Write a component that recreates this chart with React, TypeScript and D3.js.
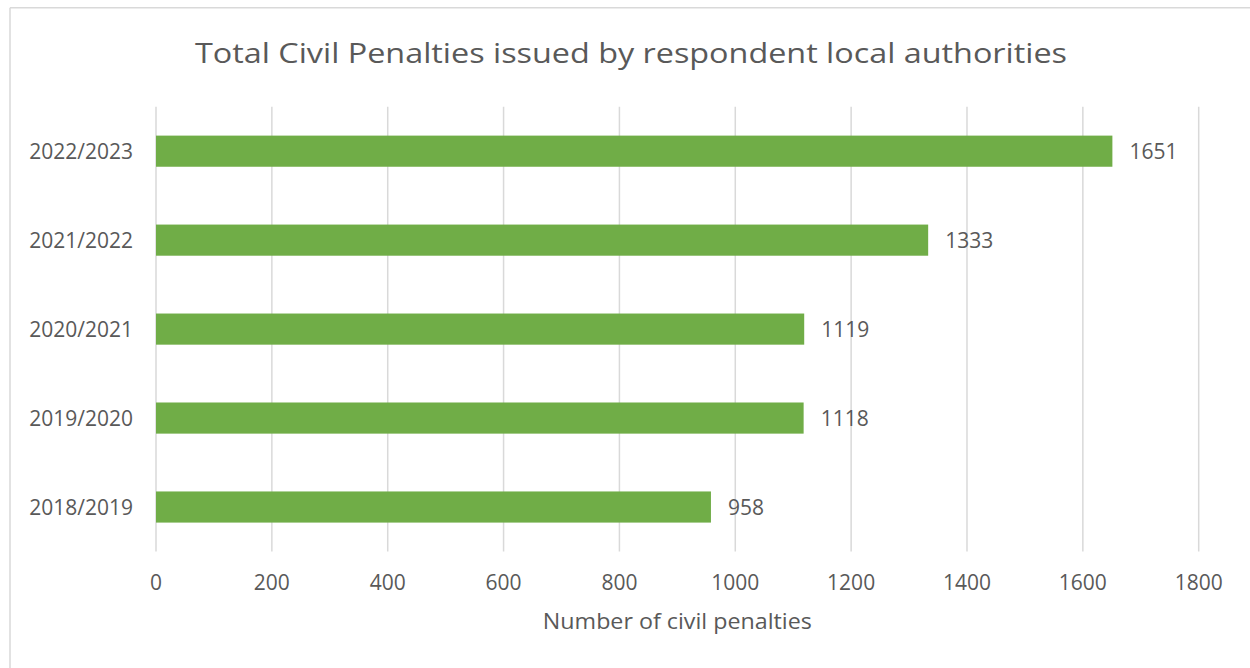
import React, { useEffect, useRef } from "react";
import * as d3 from "d3";

const categories = ["2022/2023", "2021/2022", "2020/2021", "2019/2020", "2018/2019"];
const values = [1651, 1333, 1119, 1118, 958];
const xTicks = [0, 200, 400, 600, 800, 1000, 1200, 1400, 1600, 1800];
const chartTitle = "Total Civil Penalties issued by respondent local authorities";
const xAxisTitle = "Number of civil penalties";

const W = 1250;
const H = 668;
const FONT = "'Open Sans', 'Noto Sans', sans-serif";
const TEXT = "#595959";
const GRID = "#D9D9D9";
const BAR = "#70AD47";

export default function App() {
  const ref = useRef<SVGSVGElement>(null);

  useEffect(() => {
    const svg = d3.select(ref.current);
    svg.selectAll("*").remove();

    const x = d3.scaleLinear().domain([0, 1800]).range([156, 1198.7]);
    const y = d3
      .scaleBand<string>()
      .domain(categories)
      .range([106.7, 551.5])
      .paddingInner(0.65)
      .paddingOuter(0.325);

    // border
    svg.append("line").attr("x1", 10).attr("x2", W).attr("y1", 7.8).attr("y2", 7.8)
      .attr("stroke", GRID).attr("stroke-width", 1.5);
    svg.append("line").attr("x1", 10).attr("x2", 10).attr("y1", 7.8).attr("y2", H)
      .attr("stroke", GRID).attr("stroke-width", 1.5);

    // title
    svg.append("text")
      .attr("x", 631).attr("y", 63)
      .attr("text-anchor", "middle")
      .attr("font-family", FONT).attr("font-size", 28)
      .attr("fill", TEXT)
      .attr("textLength", 872).attr("lengthAdjust", "spacingAndGlyphs")
      .text(chartTitle);

    // gridlines
    svg.append("g").selectAll("line").data(xTicks).join("line")
      .attr("x1", (d) => x(d)).attr("x2", (d) => x(d))
      .attr("y1", 106.7).attr("y2", 551.5)
      .attr("stroke", GRID).attr("stroke-width", 1.5);

    // tick labels
    svg.append("g").selectAll("text").data(xTicks).join("text")
      .attr("x", (d) => x(d)).attr("y", 590)
      .attr("text-anchor", "middle")
      .attr("font-family", FONT).attr("font-size", 21)
      .attr("fill", TEXT)
      .text((d) => String(d));

    // bars
    svg.append("g").selectAll("rect").data(values).join("rect")
      .attr("x", x(0))
      .attr("y", (_, i) => y(categories[i])!)
      .attr("width", (d) => x(d) - x(0))
      .attr("height", y.bandwidth())
      .attr("fill", BAR);

    // value labels
    svg.append("g").selectAll("text").data(values).join("text")
      .attr("x", (d) => x(d) + 17)
      .attr("y", (_, i) => y(categories[i])! + y.bandwidth() / 2)
      .attr("dy", "0.36em")
      .attr("font-family", FONT).attr("font-size", 21)
      .attr("fill", TEXT)
      .text((d) => String(d));

    // category labels
    svg.append("g").selectAll("text").data(categories).join("text")
      .attr("x", 133)
      .attr("y", (d) => y(d)! + y.bandwidth() / 2)
      .attr("dy", "0.36em")
      .attr("text-anchor", "end")
      .attr("font-family", FONT).attr("font-size", 21)
      .attr("fill", TEXT)
      .text((d) => d);

    // axis title
    svg.append("text")
      .attr("x", (x(0) + x(1800)) / 2).attr("y", 629)
      .attr("text-anchor", "middle")
      .attr("font-family", FONT).attr("font-size", 21)
      .attr("fill", TEXT)
      .attr("textLength", 269).attr("lengthAdjust", "spacingAndGlyphs")
      .text(xAxisTitle);
  }, []);

  return (
    <svg
      ref={ref}
      width={W}
      height={H}
      style={{ position: "absolute", left: 0, top: 0, background: "#fff" }}
    />
  );
}
